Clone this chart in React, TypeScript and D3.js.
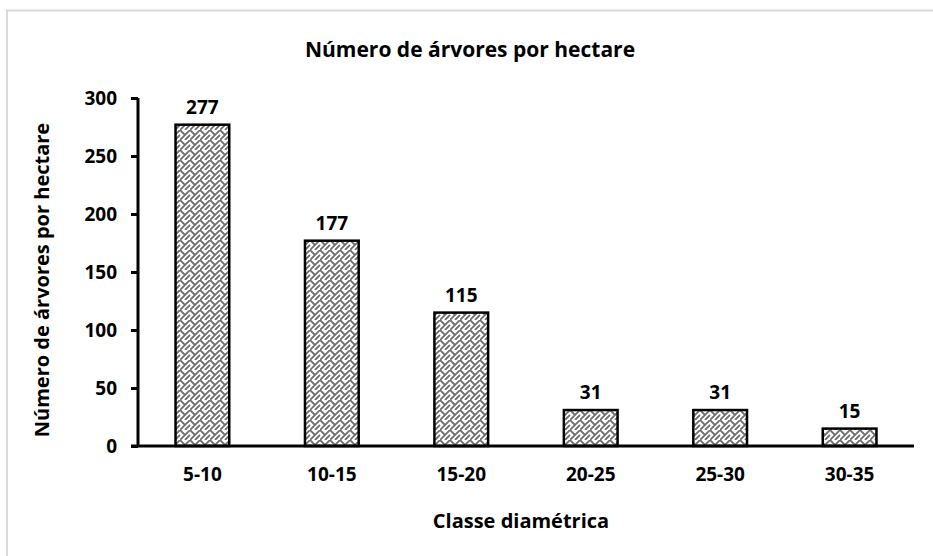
import React, { useEffect, useRef } from 'react'
import * as d3 from 'd3'

const classes = ['5-10', '10-15', '15-20', '20-25', '25-30', '30-35']
const trees = [277, 177, 115, 31, 31, 15]
const yTicks = [0, 50, 100, 150, 200, 250, 300]

const W = 933
const H = 556
const font = '"Open Sans", sans-serif'

export default function App() {
  const ref = useRef<SVGSVGElement>(null)

  useEffect(() => {
    const svg = d3.select(ref.current)
    svg.selectAll('*').remove()

    // weave-like fill (approximation of the office pattern)
    const defs = svg.append('defs')
    const pat = defs.append('pattern')
      .attr('id', 'weave')
      .attr('patternUnits', 'userSpaceOnUse')
      .attr('width', 10)
      .attr('height', 10)
    pat.append('rect').attr('width', 10).attr('height', 10).attr('fill', '#ffffff')
    pat.append('path')
      .attr('d', 'M-1 11 L11 -1 M0 0 L5 5 M5 10 L10 5 M-5 10 L0 5')
      .attr('stroke', '#6e6e6e')
      .attr('stroke-width', 1.8)
      .attr('fill', 'none')

    svg.append('rect')
      .attr('x', 7).attr('y', 10.5)
      .attr('width', W).attr('height', H)
      .attr('fill', 'white')
      .attr('stroke', '#d9d9d9')
      .attr('stroke-width', 2)

    const x = d3.scaleBand<string>()
      .domain(classes)
      .range([138, 914])
      .paddingInner(0.585)
      .paddingOuter(0.29)

    const y = d3.scaleLinear().domain([0, 300]).range([446, 98])

    const g = svg.append('g')

    g.selectAll('rect.bar')
      .data(trees)
      .enter()
      .append('rect')
      .attr('class', 'bar')
      .attr('x', (d, i) => x(classes[i])!)
      .attr('width', x.bandwidth())
      .attr('y', d => y(d))
      .attr('height', d => y(0) - y(d))
      .attr('fill', 'url(#weave)')
      .attr('stroke', 'black')
      .attr('stroke-width', 2.5)

    g.selectAll('text.val')
      .data(trees)
      .enter()
      .append('text')
      .attr('class', 'val')
      .attr('x', (d, i) => x(classes[i])! + x.bandwidth() / 2)
      .attr('y', d => y(d) - 11)
      .attr('text-anchor', 'middle')
      .style('font', `bold 19px ${font}`)
      .text(d => d)

    // y axis
    const yAxis = g.append('g')
      .attr('transform', 'translate(138,0)')
      .call(d3.axisLeft(y).tickValues(yTicks).tickSize(7).tickPadding(14))
    yAxis.select('.domain').attr('stroke-width', 3).attr('d', `M0,${y(300)}V${y(0)}`)
    yAxis.selectAll('line').attr('stroke-width', 3)
    yAxis.selectAll('text').style('font', `bold 19px ${font}`).attr('fill', 'black')

    // x axis
    const xAxis = g.append('g')
      .attr('transform', `translate(0,${y(0)})`)
      .call(d3.axisBottom(x).tickSize(0).tickPadding(22))
    xAxis.select('.domain').attr('stroke-width', 3).attr('d', 'M131,0H914')
    xAxis.selectAll('text').style('font', `bold 19px ${font}`).attr('fill', 'black')

    svg.append('text')
      .attr('x', 470).attr('y', 57)
      .attr('text-anchor', 'middle')
      .style('font', `bold 21px ${font}`)
      .text('Número de árvores por hectare')

    svg.append('text')
      .attr('x', 521).attr('y', 528)
      .attr('text-anchor', 'middle')
      .style('font', `bold 20px ${font}`)
      .text('Classe diamétrica')

    svg.append('text')
      .attr('transform', 'translate(49,280) rotate(-90)')
      .attr('text-anchor', 'middle')
      .style('font', `bold 20px ${font}`)
      .text('Número de árvores por hectare')
  }, [])

  return (
    <div style={{ position: 'absolute', left: 0, top: 0 }}>
      <svg ref={ref} width={W} height={H} style={{ display: 'block' }} />
    </div>
  )
}
